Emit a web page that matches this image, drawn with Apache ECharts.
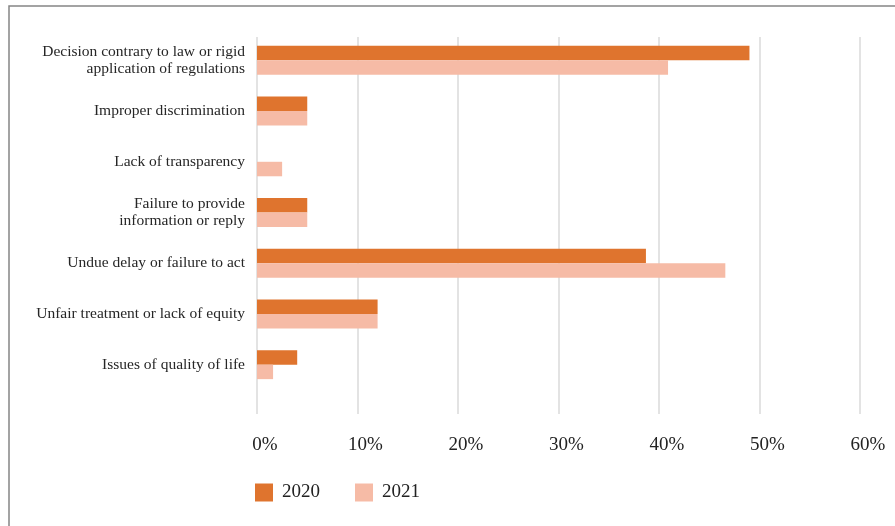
<!DOCTYPE html>
<html>
<head>
<meta charset="utf-8">
<script src="https://cdn.jsdelivr.net/npm/echarts@6/dist/echarts.min.js"></script>
<style>
  html, body { margin: 0; padding: 0; background: #fff; }
  #chart { width: 895px; height: 526px; }
</style>
</head>
<body>
<div id="chart"></div>
<script>
let categories = [
    'Decision contrary to law or rigid\napplication of regulations',
    'Improper discrimination',
    'Lack of transparency',
    'Failure to provide\ninformation or reply',
    'Undue delay or failure to act',
    'Unfair treatment or lack of equity',
    'Issues of quality of life'
];
let values2020 = [49.0, 5.0, 0, 5.0, 38.7, 12.0, 4.0];
let values2021 = [40.9, 5.0, 2.5, 5.0, 46.6, 12.0, 1.6];
let tickValues = [0, 10, 20, 30, 40, 50, 60];

let serifFont = '"Liberation Serif", "DejaVu Serif", serif';

let chart = echarts.init(document.getElementById('chart'));
let option = {
    backgroundColor: '#ffffff',
    animation: false,
    color: ['#df742e', '#f6bba6'],
    graphic: [{
        type: 'rect',
        shape: { x: 9, y: 6, width: 900, height: 530 },
        style: { fill: 'none', stroke: '#858585', lineWidth: 1.5 },
        silent: true
    }],
    legend: {
        data: ['2020', '2021'],
        left: 255,
        top: 483,
        padding: 0,
        icon: 'rect',
        itemWidth: 18,
        itemHeight: 18,
        itemGap: 35,
        textStyle: {
            fontFamily: serifFont,
            fontSize: 19,
            color: '#222',
            padding: [0, 0, 0, 4]
        }
    },
    grid: [
        // gridlines and tick labels
        { left: 257, right: 35, top: 37, bottom: 112 },
        // bars
        { left: 257, right: 35, top: 35, height: 355 }
    ],
    xAxis: [{
        gridIndex: 0,
        type: 'value',
        min: tickValues[0],
        max: tickValues[tickValues.length - 1],
        interval: 10,
        axisLine: { show: false },
        axisTick: { show: false },
        splitLine: {
            show: true,
            lineStyle: { color: '#e3e3e3', width: 2 }
        },
        axisLabel: {
            formatter: '{value}%',
            fontFamily: serifFont,
            fontSize: 19,
            color: '#222',
            margin: 22,
            padding: [0, 0, 0, 16]
        }
    }, {
        gridIndex: 1,
        type: 'value',
        min: tickValues[0],
        max: tickValues[tickValues.length - 1],
        show: false
    }],
    yAxis: [{
        gridIndex: 0,
        type: 'value',
        show: false
    }, {
        gridIndex: 1,
        type: 'category',
        inverse: true,
        data: categories,
        axisLine: { show: false },
        axisTick: { show: false },
        splitLine: { show: false },
        axisLabel: {
            fontFamily: serifFont,
            fontSize: 15.5,
            lineHeight: 17,
            color: '#262626',
            margin: 12,
            align: 'right'
        }
    }],
    series: [{
        name: '2020',
        type: 'bar',
        xAxisIndex: 1,
        yAxisIndex: 1,
        data: values2020,
        barWidth: 14.5,
        barGap: '0%'
    }, {
        name: '2021',
        type: 'bar',
        xAxisIndex: 1,
        yAxisIndex: 1,
        data: values2021,
        barWidth: 14.5,
        barGap: '0%'
    }]
};
chart.setOption(option);
</script>
</body>
</html>
